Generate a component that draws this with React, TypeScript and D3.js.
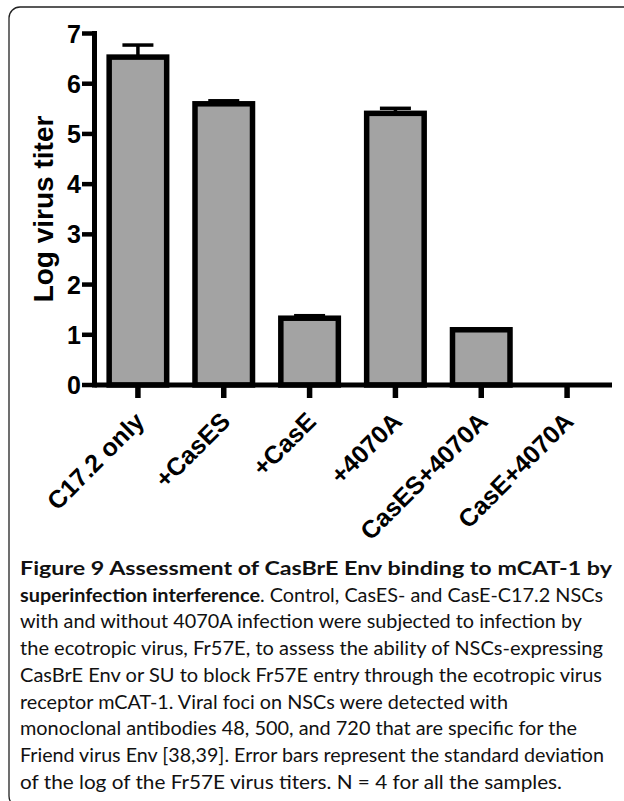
import React, { useEffect, useRef } from 'react';
import * as d3 from 'd3';

// chart data
const categories = ["C17.2 only", "+CasES", "+CasE", "+4070A", "CasES+4070A", "CasE+4070A"];
const means = [6.53, 5.6, 1.33, 5.41, 1.1, 0];
const sds = [0.24, 0.06, 0.05, 0.1, 0, 0];
const yTicks = [0, 1, 2, 3, 4, 5, 6, 7];

// caption lines, [bold part, regular part]
const captionLines: Array<[string, string]> = [
  ["Figure 9 Assessment of CasBrE Env binding to mCAT-1 by", ""],
  ["superinfection interference", ". Control, CasES- and CasE-C17.2 NSCs"],
  ["", "with and without 4070A infection were subjected to infection by"],
  ["", "the ecotropic virus, Fr57E, to assess the ability of NSCs-expressing"],
  ["", "CasBrE Env or SU to block Fr57E entry through the ecotropic virus"],
  ["", "receptor mCAT-1. Viral foci on NSCs were detected with"],
  ["", "monoclonal antibodies 48, 500, and 720 that are specific for the"],
  ["", "Friend virus Env [38,39]. Error bars represent the standard deviation"],
  ["", "of the log of the Fr57E virus titers. N = 4 for all the samples."],
];
const captionWidths = [592, 583, 562, 583, 582, 488, 557, 584, 542];

const W = 624;
const H = 801;

const App: React.FC = () => {
  const svgRef = useRef<SVGSVGElement>(null);

  useEffect(() => {
    if (!svgRef.current) return;
    const svg = d3.select(svgRef.current);
    svg.selectAll("*").remove();

    const axisX = 94.5;
    const x = d3.scaleBand<string>().domain(categories).range([95, 610]).padding(0);
    const y = d3.scaleLinear().domain([0, 7]).range([385, 33.5]);
    const barW = x.bandwidth() * 0.67;
    const cx = (c: string) => (x(c) as number) + x.bandwidth() / 2;

    // frame round the figure
    svg.append("rect")
      .attr("x", 9).attr("y", 7)
      .attr("width", 700).attr("height", 800)
      .attr("rx", 11)
      .attr("fill", "none")
      .attr("stroke", "#222")
      .attr("stroke-width", 1.3);

    const g = svg.append("g");

    // bars
    categories.forEach((c, i) => {
      if (means[i] <= 0) return;
      g.append("rect")
        .attr("x", cx(c) - barW / 2)
        .attr("y", y(means[i]))
        .attr("width", barW)
        .attr("height", y(0) - y(means[i]))
        .attr("fill", "#a3a3a3")
        .attr("stroke", "#000")
        .attr("stroke-width", 5.5);
    });

    // error bars
    categories.forEach((c, i) => {
      if (sds[i] <= 0) return;
      const top = y(means[i] + sds[i]);
      g.append("line")
        .attr("x1", cx(c)).attr("x2", cx(c))
        .attr("y1", y(means[i])).attr("y2", top)
        .attr("stroke", "#000").attr("stroke-width", 3.5);
      g.append("line")
        .attr("x1", cx(c) - 15.5).attr("x2", cx(c) + 15.5)
        .attr("y1", top).attr("y2", top)
        .attr("stroke", "#000").attr("stroke-width", 3.5);
    });

    // y axis
    g.append("line")
      .attr("x1", axisX).attr("x2", axisX)
      .attr("y1", y(7) - 2.5).attr("y2", y(0) + 2.5)
      .attr("stroke", "#000").attr("stroke-width", 5);
    yTicks.forEach(t => {
      g.append("line")
        .attr("x1", 82).attr("x2", axisX)
        .attr("y1", y(t)).attr("y2", y(t))
        .attr("stroke", "#000").attr("stroke-width", 4.5);
      g.append("text")
        .attr("x", 81).attr("y", y(t))
        .attr("dy", "0.36em")
        .attr("text-anchor", "end")
        .style("font-family", "Liberation Sans, Arial, sans-serif")
        .style("font-weight", "bold")
        .style("font-size", "25px")
        .text(t);
    });

    g.append("text")
      .attr("transform", `translate(53, 209) rotate(-90)`)
      .attr("text-anchor", "middle")
      .style("font-family", "Liberation Sans, Arial, sans-serif")
      .style("font-weight", "bold")
      .style("font-size", "28px")
      .text("Log virus titer");

    // x axis
    g.append("line")
      .attr("x1", axisX).attr("x2", 612)
      .attr("y1", y(0)).attr("y2", y(0))
      .attr("stroke", "#000").attr("stroke-width", 5);
    categories.forEach(c => {
      g.append("line")
        .attr("x1", cx(c)).attr("x2", cx(c))
        .attr("y1", y(0)).attr("y2", 398)
        .attr("stroke", "#000").attr("stroke-width", 5.5);
      g.append("text")
        .attr("transform", `translate(${cx(c) + 8}, 423) rotate(-45)`)
        .attr("text-anchor", "end")
        .style("font-family", "Liberation Sans, Arial, sans-serif")
        .style("font-weight", "bold")
        .style("font-size", "25px")
        .text(c);
    });

    // caption
    captionLines.forEach(([b, r], i) => {
      const t = svg.append("text")
        .attr("x", 20)
        .attr("y", 575 + i * 26.7)
        .attr("textLength", captionWidths[i])
        .attr("lengthAdjust", "spacingAndGlyphs")
        .style("font-family", "Lato, sans-serif")
        .style("font-size", "19.5px")
        .style("fill", "#111");
      if (b) t.append("tspan").style("font-weight", "bold").text(b);
      if (r) t.append("tspan").text(r);
    });
  }, []);

  return (
    <svg
      ref={svgRef}
      width={W}
      height={H}
      style={{ position: 'absolute', left: 0, top: 0, background: '#fff' }}
    />
  );
};

export default App;
